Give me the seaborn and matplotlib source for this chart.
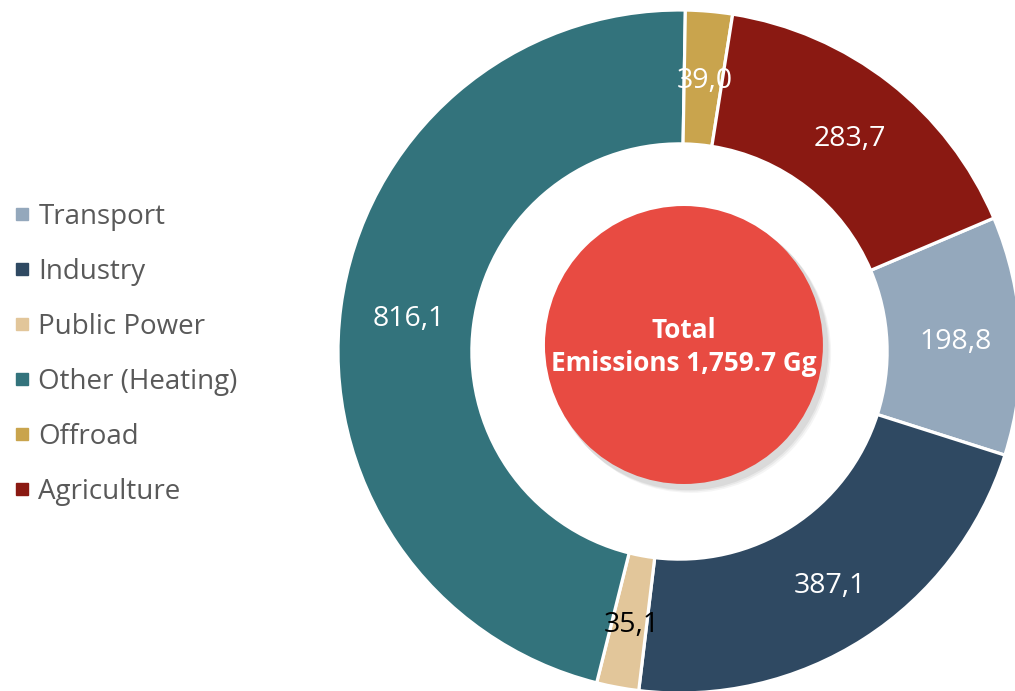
import numpy as np
import seaborn as sns
import matplotlib.pyplot as plt
from matplotlib.lines import Line2D
from matplotlib.patches import Circle

sns.set_theme(style="white")
plt.rcParams['font.family'] = ['Open Sans', 'DejaVu Sans']

# data, in legend order
sectors = ['Transport', 'Industry', 'Public Power', 'Other (Heating)', 'Offroad', 'Agriculture']
emissions = [198.8, 387.1, 35.1, 816.1, 39.0, 283.7]
colors = sns.color_palette(['#94A8BC', '#2F4962', '#E2C69A', '#33737C', '#C9A44D', '#8A1912'])
label_colors = ['white', 'white', 'black', 'white', 'white', 'white']
total_text = 'Total\nEmissions 1,759.7 Gg'

W, H = 1015, 691
fig = plt.figure(figsize=(W / 100, H / 100), dpi=100)

# donut placed by pixel centre / radius
cx, cy, r = 679.5, 351.5, 341.5
ax = fig.add_axes([(cx - r) / W, (H - cy - r) / H, 2 * r / W, 2 * r / H])

wedges, _ = ax.pie(emissions, colors=colors, startangle=23, counterclock=False,
                   radius=1, wedgeprops=dict(width=0.392, edgecolor='white', linewidth=2.3))
ax.set_xlim(-1, 1)
ax.set_ylim(-1, 1)
ax.set_aspect('equal')
ax.axis('off')

# value labels in the middle of the ring
for w, v, c in zip(wedges, emissions, label_colors):
    ang = np.deg2rad((w.theta1 + w.theta2) / 2)
    ax.text(0.804 * np.cos(ang) + 0.005, 0.804 * np.sin(ang) - 0.01,
            f'{v:.1f}'.replace('.', ','),
            ha='center', va='center', color=c, fontsize=20.5)

# red centre circle with soft shadow
ccx, ccy, cr = 0.013, 0.019, 0.407
for i, a in enumerate([0.06, 0.05, 0.04]):
    ax.add_patch(Circle((ccx + 0.012 + i * 0.004, ccy - 0.014 - i * 0.004), cr + 0.004,
                        color='black', alpha=a, lw=0, zorder=3))
ax.add_patch(Circle((ccx, ccy), cr, color='#E84B42', lw=0, zorder=4))
ax.text(ccx, ccy - 0.005, total_text, ha='center', va='center', color='white',
        fontsize=18.8, fontweight='bold', linespacing=1.3, zorder=5)

handles = [Line2D([], [], marker='s', linestyle='', markersize=8, color=c) for c in colors]
leg = fig.legend(handles, sectors, loc='upper left', bbox_to_anchor=(13.5 / W, 0.706),
                 frameon=False, fontsize=20, labelspacing=0.97, handletextpad=0.3,
                 handlelength=0.6, borderpad=0, borderaxespad=0, labelcolor='#595959')

fig.savefig('out.png', dpi=100)
